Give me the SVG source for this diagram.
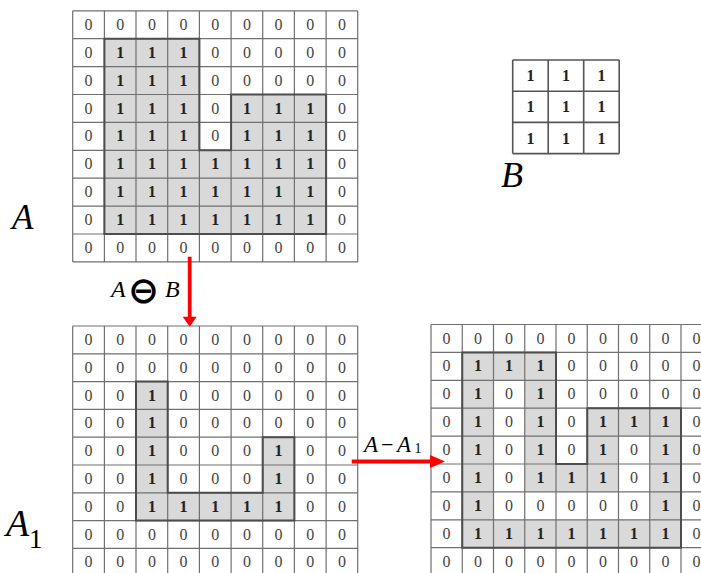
<svg xmlns="http://www.w3.org/2000/svg" width="701" height="573" viewBox="0 0 701 573">
<style>
.z{font-family:"Liberation Serif","DejaVu Serif",serif;font-size:16px;fill:#444;text-anchor:middle}
.o{font-family:"Liberation Serif","DejaVu Serif",serif;font-size:16px;font-weight:bold;fill:#222;text-anchor:middle}
.grid{fill:none;stroke:#707070;stroke-width:1.2}
.sh{fill:#d9d9d9;stroke:none}
.ol{fill:none;stroke:#4d4d4d;stroke-width:2}
.lab{font-family:"Liberation Serif","DejaVu Serif",serif;font-style:italic;fill:#000}
.up{font-family:"Liberation Serif","DejaVu Serif",serif;fill:#000}
.arr{stroke:#f00;stroke-width:3.8;fill:none}
.ah{fill:#f00}
</style>
<rect width="701" height="573" fill="#fff"/>

<g id="gridA">
<path class="sh" d="M104.4,38.7 H199.4 V150.3 H231.1 V94.5 H326.1 V234 H104.4 Z"/>
<path class="grid" d="M72.7,10.8V261.9M104.4,10.8V261.9M136,10.8V261.9M167.7,10.8V261.9M199.4,10.8V261.9M231.1,10.8V261.9M262.7,10.8V261.9M294.4,10.8V261.9M326.1,10.8V261.9M357.7,10.8V261.9M72.7,10.8H357.7M72.7,38.7H357.7M72.7,66.6H357.7M72.7,94.5H357.7M72.7,122.4H357.7M72.7,150.3H357.7M72.7,178.2H357.7M72.7,206.1H357.7M72.7,234H357.7M72.7,261.9H357.7"/>
<path class="ol" d="M104.4,38.7 H199.4 V150.3 H231.1 V94.5 H326.1 V234 H104.4 Z"/>
<text class="z" x="88.5" y="29.8">0</text><text class="z" x="120.2" y="29.8">0</text><text class="z" x="151.9" y="29.8">0</text><text class="z" x="183.6" y="29.8">0</text><text class="z" x="215.2" y="29.8">0</text><text class="z" x="246.9" y="29.8">0</text><text class="z" x="278.6" y="29.8">0</text><text class="z" x="310.2" y="29.8">0</text><text class="z" x="341.9" y="29.8">0</text>
<text class="z" x="88.5" y="57.7">0</text><text class="o" x="120.2" y="57.7">1</text><text class="o" x="151.9" y="57.7">1</text><text class="o" x="183.6" y="57.7">1</text><text class="z" x="215.2" y="57.7">0</text><text class="z" x="246.9" y="57.7">0</text><text class="z" x="278.6" y="57.7">0</text><text class="z" x="310.2" y="57.7">0</text><text class="z" x="341.9" y="57.7">0</text>
<text class="z" x="88.5" y="85.6">0</text><text class="o" x="120.2" y="85.6">1</text><text class="o" x="151.9" y="85.6">1</text><text class="o" x="183.6" y="85.6">1</text><text class="z" x="215.2" y="85.6">0</text><text class="z" x="246.9" y="85.6">0</text><text class="z" x="278.6" y="85.6">0</text><text class="z" x="310.2" y="85.6">0</text><text class="z" x="341.9" y="85.6">0</text>
<text class="z" x="88.5" y="113.5">0</text><text class="o" x="120.2" y="113.5">1</text><text class="o" x="151.9" y="113.5">1</text><text class="o" x="183.6" y="113.5">1</text><text class="z" x="215.2" y="113.5">0</text><text class="o" x="246.9" y="113.5">1</text><text class="o" x="278.6" y="113.5">1</text><text class="o" x="310.2" y="113.5">1</text><text class="z" x="341.9" y="113.5">0</text>
<text class="z" x="88.5" y="141.4">0</text><text class="o" x="120.2" y="141.4">1</text><text class="o" x="151.9" y="141.4">1</text><text class="o" x="183.6" y="141.4">1</text><text class="z" x="215.2" y="141.4">0</text><text class="o" x="246.9" y="141.4">1</text><text class="o" x="278.6" y="141.4">1</text><text class="o" x="310.2" y="141.4">1</text><text class="z" x="341.9" y="141.4">0</text>
<text class="z" x="88.5" y="169.3">0</text><text class="o" x="120.2" y="169.3">1</text><text class="o" x="151.9" y="169.3">1</text><text class="o" x="183.6" y="169.3">1</text><text class="o" x="215.2" y="169.3">1</text><text class="o" x="246.9" y="169.3">1</text><text class="o" x="278.6" y="169.3">1</text><text class="o" x="310.2" y="169.3">1</text><text class="z" x="341.9" y="169.3">0</text>
<text class="z" x="88.5" y="197.2">0</text><text class="o" x="120.2" y="197.2">1</text><text class="o" x="151.9" y="197.2">1</text><text class="o" x="183.6" y="197.2">1</text><text class="o" x="215.2" y="197.2">1</text><text class="o" x="246.9" y="197.2">1</text><text class="o" x="278.6" y="197.2">1</text><text class="o" x="310.2" y="197.2">1</text><text class="z" x="341.9" y="197.2">0</text>
<text class="z" x="88.5" y="225.1">0</text><text class="o" x="120.2" y="225.1">1</text><text class="o" x="151.9" y="225.1">1</text><text class="o" x="183.6" y="225.1">1</text><text class="o" x="215.2" y="225.1">1</text><text class="o" x="246.9" y="225.1">1</text><text class="o" x="278.6" y="225.1">1</text><text class="o" x="310.2" y="225.1">1</text><text class="z" x="341.9" y="225.1">0</text>
<text class="z" x="88.5" y="253">0</text><text class="z" x="120.2" y="253">0</text><text class="z" x="151.9" y="253">0</text><text class="z" x="183.6" y="253">0</text><text class="z" x="215.2" y="253">0</text><text class="z" x="246.9" y="253">0</text><text class="z" x="278.6" y="253">0</text><text class="z" x="310.2" y="253">0</text><text class="z" x="341.9" y="253">0</text>
</g>

<g id="labelA"><text class="lab" x="12" y="229" font-size="35">A</text></g>

<g id="gridB">
<path class="grid" style="stroke:#555;stroke-width:1.6" d="M512.7,60V153.6M548.2,60V153.6M583.7,60V153.6M619.2,60V153.6M512.7,60H619.2M512.7,91.2H619.2M512.7,122.4H619.2M512.7,153.6H619.2"/>
<text class="o" x="530.5" y="81.2">1</text><text class="o" x="566" y="81.2">1</text><text class="o" x="601.5" y="81.2">1</text>
<text class="o" x="530.5" y="112.4">1</text><text class="o" x="566" y="112.4">1</text><text class="o" x="601.5" y="112.4">1</text>
<text class="o" x="530.5" y="143.6">1</text><text class="o" x="566" y="143.6">1</text><text class="o" x="601.5" y="143.6">1</text>
<text class="lab" x="501" y="187" font-size="36">B</text>
</g>

<g id="gridA1">
<path class="sh" d="M136,381.6 H167.7 V492.8 H262.7 V437.2 H294.4 V520.6 H136 Z"/>
<path class="grid" d="M72.7,326V576M104.4,326V576M136,326V576M167.7,326V576M199.4,326V576M231.1,326V576M262.7,326V576M294.4,326V576M326.1,326V576M357.7,326V576M72.7,326H357.7M72.7,353.8H357.7M72.7,381.6H357.7M72.7,409.4H357.7M72.7,437.2H357.7M72.7,465H357.7M72.7,492.8H357.7M72.7,520.6H357.7M72.7,548.4H357.7"/>
<path class="ol" d="M136,381.6 H167.7 V492.8 H262.7 V437.2 H294.4 V520.6 H136 Z"/>
<text class="z" x="88.5" y="344.9">0</text><text class="z" x="120.2" y="344.9">0</text><text class="z" x="151.9" y="344.9">0</text><text class="z" x="183.6" y="344.9">0</text><text class="z" x="215.2" y="344.9">0</text><text class="z" x="246.9" y="344.9">0</text><text class="z" x="278.6" y="344.9">0</text><text class="z" x="310.2" y="344.9">0</text><text class="z" x="341.9" y="344.9">0</text>
<text class="z" x="88.5" y="372.7">0</text><text class="z" x="120.2" y="372.7">0</text><text class="z" x="151.9" y="372.7">0</text><text class="z" x="183.6" y="372.7">0</text><text class="z" x="215.2" y="372.7">0</text><text class="z" x="246.9" y="372.7">0</text><text class="z" x="278.6" y="372.7">0</text><text class="z" x="310.2" y="372.7">0</text><text class="z" x="341.9" y="372.7">0</text>
<text class="z" x="88.5" y="400.5">0</text><text class="z" x="120.2" y="400.5">0</text><text class="o" x="151.9" y="400.5">1</text><text class="z" x="183.6" y="400.5">0</text><text class="z" x="215.2" y="400.5">0</text><text class="z" x="246.9" y="400.5">0</text><text class="z" x="278.6" y="400.5">0</text><text class="z" x="310.2" y="400.5">0</text><text class="z" x="341.9" y="400.5">0</text>
<text class="z" x="88.5" y="428.3">0</text><text class="z" x="120.2" y="428.3">0</text><text class="o" x="151.9" y="428.3">1</text><text class="z" x="183.6" y="428.3">0</text><text class="z" x="215.2" y="428.3">0</text><text class="z" x="246.9" y="428.3">0</text><text class="z" x="278.6" y="428.3">0</text><text class="z" x="310.2" y="428.3">0</text><text class="z" x="341.9" y="428.3">0</text>
<text class="z" x="88.5" y="456.1">0</text><text class="z" x="120.2" y="456.1">0</text><text class="o" x="151.9" y="456.1">1</text><text class="z" x="183.6" y="456.1">0</text><text class="z" x="215.2" y="456.1">0</text><text class="z" x="246.9" y="456.1">0</text><text class="o" x="278.6" y="456.1">1</text><text class="z" x="310.2" y="456.1">0</text><text class="z" x="341.9" y="456.1">0</text>
<text class="z" x="88.5" y="483.9">0</text><text class="z" x="120.2" y="483.9">0</text><text class="o" x="151.9" y="483.9">1</text><text class="z" x="183.6" y="483.9">0</text><text class="z" x="215.2" y="483.9">0</text><text class="z" x="246.9" y="483.9">0</text><text class="o" x="278.6" y="483.9">1</text><text class="z" x="310.2" y="483.9">0</text><text class="z" x="341.9" y="483.9">0</text>
<text class="z" x="88.5" y="511.7">0</text><text class="z" x="120.2" y="511.7">0</text><text class="o" x="151.9" y="511.7">1</text><text class="o" x="183.6" y="511.7">1</text><text class="o" x="215.2" y="511.7">1</text><text class="o" x="246.9" y="511.7">1</text><text class="o" x="278.6" y="511.7">1</text><text class="z" x="310.2" y="511.7">0</text><text class="z" x="341.9" y="511.7">0</text>
<text class="z" x="88.5" y="539.5">0</text><text class="z" x="120.2" y="539.5">0</text><text class="z" x="151.9" y="539.5">0</text><text class="z" x="183.6" y="539.5">0</text><text class="z" x="215.2" y="539.5">0</text><text class="z" x="246.9" y="539.5">0</text><text class="z" x="278.6" y="539.5">0</text><text class="z" x="310.2" y="539.5">0</text><text class="z" x="341.9" y="539.5">0</text>
<text class="z" x="88.5" y="567.3">0</text><text class="z" x="120.2" y="567.3">0</text><text class="z" x="151.9" y="567.3">0</text><text class="z" x="183.6" y="567.3">0</text><text class="z" x="215.2" y="567.3">0</text><text class="z" x="246.9" y="567.3">0</text><text class="z" x="278.6" y="567.3">0</text><text class="z" x="310.2" y="567.3">0</text><text class="z" x="341.9" y="567.3">0</text>
</g>

<g id="labelA1"><text class="lab" x="6" y="536" font-size="38">A</text><text class="up" x="29" y="548" font-size="27">1</text></g>

<g id="gridDiff">
<path class="sh" d="M462.25,352.4h93.75v27.9h-93.75z M462.25,352.4h31.25v195.3h-31.25z M524.75,352.4h31.25v139.5h-31.25z M587.25,408.2h93.75v27.9h-93.75z M587.25,408.2h31.25v83.7h-31.25z M649.75,408.2h31.25v139.5h-31.25z M556,464h31.25v27.9h-31.25z M462.25,519.8h218.75v27.9h-218.75z"/>
<path class="grid" d="M431,324.5V576M462.25,324.5V576M493.5,324.5V576M524.75,324.5V576M556,324.5V576M587.25,324.5V576M618.5,324.5V576M649.75,324.5V576M681,324.5V576M431,324.5H712M431,352.4H712M431,380.3H712M431,408.2H712M431,436.1H712M431,464H712M431,491.9H712M431,519.8H712M431,547.7H712"/>
<path class="ol" d="M462.25,352.4 H556 V464 H587.25 V408.2 H681 V547.7 H462.25 Z"/>
<text class="z" x="446.6" y="343.5">0</text><text class="z" x="477.9" y="343.5">0</text><text class="z" x="509.1" y="343.5">0</text><text class="z" x="540.4" y="343.5">0</text><text class="z" x="571.6" y="343.5">0</text><text class="z" x="602.9" y="343.5">0</text><text class="z" x="634.1" y="343.5">0</text><text class="z" x="665.4" y="343.5">0</text><text class="z" x="696.6" y="343.5">0</text>
<text class="z" x="446.6" y="371.4">0</text><text class="o" x="477.9" y="371.4">1</text><text class="o" x="509.1" y="371.4">1</text><text class="o" x="540.4" y="371.4">1</text><text class="z" x="571.6" y="371.4">0</text><text class="z" x="602.9" y="371.4">0</text><text class="z" x="634.1" y="371.4">0</text><text class="z" x="665.4" y="371.4">0</text><text class="z" x="696.6" y="371.4">0</text>
<text class="z" x="446.6" y="399.3">0</text><text class="o" x="477.9" y="399.3">1</text><text class="z" x="509.1" y="399.3">0</text><text class="o" x="540.4" y="399.3">1</text><text class="z" x="571.6" y="399.3">0</text><text class="z" x="602.9" y="399.3">0</text><text class="z" x="634.1" y="399.3">0</text><text class="z" x="665.4" y="399.3">0</text><text class="z" x="696.6" y="399.3">0</text>
<text class="z" x="446.6" y="427.2">0</text><text class="o" x="477.9" y="427.2">1</text><text class="z" x="509.1" y="427.2">0</text><text class="o" x="540.4" y="427.2">1</text><text class="z" x="571.6" y="427.2">0</text><text class="o" x="602.9" y="427.2">1</text><text class="o" x="634.1" y="427.2">1</text><text class="o" x="665.4" y="427.2">1</text><text class="z" x="696.6" y="427.2">0</text>
<text class="z" x="446.6" y="455.1">0</text><text class="o" x="477.9" y="455.1">1</text><text class="z" x="509.1" y="455.1">0</text><text class="o" x="540.4" y="455.1">1</text><text class="z" x="571.6" y="455.1">0</text><text class="o" x="602.9" y="455.1">1</text><text class="z" x="634.1" y="455.1">0</text><text class="o" x="665.4" y="455.1">1</text><text class="z" x="696.6" y="455.1">0</text>
<text class="z" x="446.6" y="483">0</text><text class="o" x="477.9" y="483">1</text><text class="z" x="509.1" y="483">0</text><text class="o" x="540.4" y="483">1</text><text class="o" x="571.6" y="483">1</text><text class="o" x="602.9" y="483">1</text><text class="z" x="634.1" y="483">0</text><text class="o" x="665.4" y="483">1</text><text class="z" x="696.6" y="483">0</text>
<text class="z" x="446.6" y="510.9">0</text><text class="o" x="477.9" y="510.9">1</text><text class="z" x="509.1" y="510.9">0</text><text class="z" x="540.4" y="510.9">0</text><text class="z" x="571.6" y="510.9">0</text><text class="z" x="602.9" y="510.9">0</text><text class="z" x="634.1" y="510.9">0</text><text class="o" x="665.4" y="510.9">1</text><text class="z" x="696.6" y="510.9">0</text>
<text class="z" x="446.6" y="538.8">0</text><text class="o" x="477.9" y="538.8">1</text><text class="o" x="509.1" y="538.8">1</text><text class="o" x="540.4" y="538.8">1</text><text class="o" x="571.6" y="538.8">1</text><text class="o" x="602.9" y="538.8">1</text><text class="o" x="634.1" y="538.8">1</text><text class="o" x="665.4" y="538.8">1</text><text class="z" x="696.6" y="538.8">0</text>
<text class="z" x="446.6" y="566.7">0</text><text class="z" x="477.9" y="566.7">0</text><text class="z" x="509.1" y="566.7">0</text><text class="z" x="540.4" y="566.7">0</text><text class="z" x="571.6" y="566.7">0</text><text class="z" x="602.9" y="566.7">0</text><text class="z" x="634.1" y="566.7">0</text><text class="z" x="665.4" y="566.7">0</text><text class="z" x="696.6" y="566.7">0</text>
</g>

<g id="connectors">
<path class="arr" d="M189.7,256.7V318"/>
<polygon class="ah" points="182.7,316.7 196.7,316.7 189.7,326.7"/>
<path class="arr" d="M351.7,461.5H432"/>
<polygon class="ah" points="430,455 430,468 445,461.5"/>
</g>

<g id="labelErode">
<text class="lab" x="111" y="297" font-size="24">A</text>
<text x="143.5" y="302.5" font-size="37" font-weight="bold" text-anchor="middle" fill="#000" style="font-family:'DejaVu Sans',sans-serif">⊖</text>
<text class="lab" x="165" y="297" font-size="24">B</text>
</g>

<g id="labelDiff">
<text class="lab" x="364" y="451.7" font-size="23">A</text>
<text class="up" x="381" y="451.7" font-size="22">−</text>
<text class="lab" x="397" y="451.7" font-size="23">A</text>
<text class="up" x="414.5" y="453" font-size="14">1</text>
</g>
</svg>
